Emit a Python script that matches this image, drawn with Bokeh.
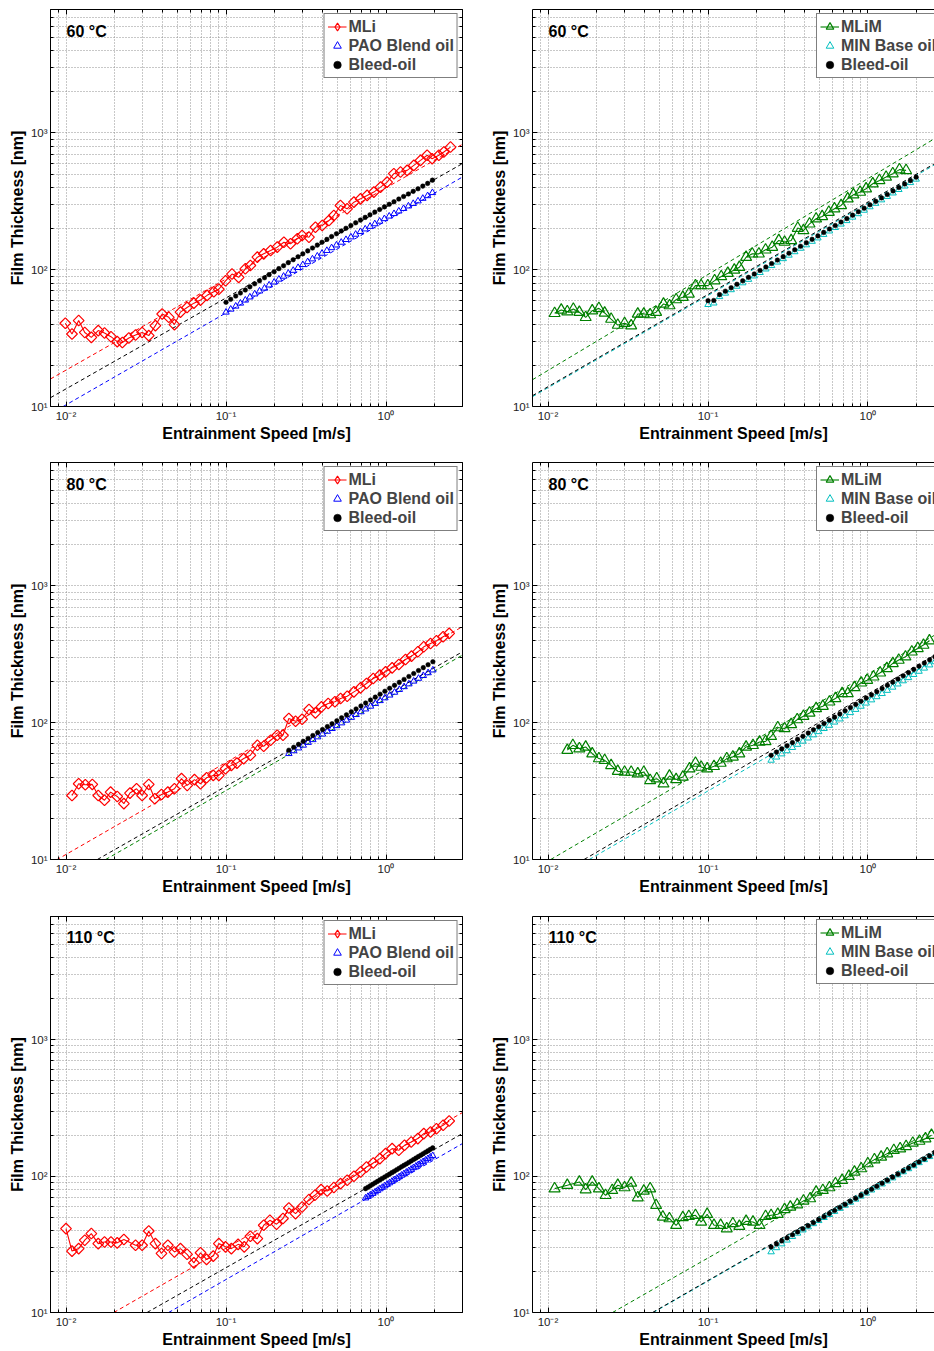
from bokeh.plotting import figure
from bokeh.layouts import gridplot
from bokeh.models import (Range1d, FixedTicker, CustomJSTickFormatter, Legend,
                          LegendItem, Label, LogAxis)
from bokeh.embed import file_html
from bokeh.resources import INLINE
import math

FONT = "Liberation Sans"

# ---------------- axis ticks ----------------
X_MAJOR_TICKS = [0.01, 0.1, 1.0]
X_MINOR_TICKS = [0.009, 0.02, 0.03, 0.04, 0.05, 0.06, 0.07, 0.08, 0.09,
                 0.2, 0.3, 0.4, 0.5, 0.6, 0.7, 0.8, 0.9, 2.0]
Y_MAJOR_TICKS = [10, 100, 1000]
Y_MINOR_TICKS = [20, 30, 40, 50, 60, 70, 80, 90,
                 200, 300, 400, 500, 600, 700, 800, 900,
                 2000, 3000, 4000, 5000, 6000, 7000]

TEMPS = ["60 \u00b0C", "80 \u00b0C", "110 \u00b0C"]
LEFT_NAMES = ["MLi", "PAO Blend oil", "Bleed-oil"]
RIGHT_NAMES = ["MLiM", "MIN Base oil", "Bleed-oil"]

# ---------------- 60 C, lithium grease (MLi) ----------------
A_MLI_X = [0.0099, 0.0109, 0.0120, 0.0131, 0.0144, 0.0159, 0.0174, 0.0191, 0.0209, 0.0225,
           0.0247, 0.0272, 0.0299, 0.0329, 0.0362, 0.0399, 0.0439, 0.0476, 0.0519, 0.0571,
           0.0630, 0.0693, 0.0762, 0.0839, 0.0902, 0.0993, 0.109, 0.120, 0.132, 0.142,
           0.157, 0.172, 0.190, 0.209, 0.230, 0.253, 0.279, 0.299, 0.330, 0.362,
           0.399, 0.440, 0.472, 0.519, 0.571, 0.630, 0.693, 0.762, 0.839, 0.924,
           1.016, 1.119, 1.232, 1.355, 1.492, 1.643, 1.807, 1.942, 2.138, 2.298, 2.53]
A_MLI_Y = [40.6, 33.9, 42.5, 34.8, 32.0, 35.9, 34.5, 32.4, 29.8, 29.4,
           31.7, 33.3, 34.8, 33.0, 39.0, 47.5, 44.9, 39.7, 49.0, 53.0,
           57.0, 60.0, 65.0, 69.0, 72.0, 83.0, 93.0, 88.0, 101.6, 107.5,
           123.6, 130.7, 138.2, 146.3, 159.0, 154.8, 168.4, 178.0, 173.0, 204.7,
           210.7, 229.0, 249.4, 295.0, 279.0, 312.0, 330.0, 349.6, 369.8, 402.0,
           437.5, 504.0, 518.0, 533.0, 580.0, 631.0, 687.0, 649.0, 687.0, 726.0, 789.0]
A_OIL_X = [0.100, 0.107, 0.115, 0.123, 0.132, 0.141, 0.151, 0.162, 0.174, 0.186,
           0.200, 0.214, 0.229, 0.245, 0.263, 0.282, 0.302, 0.324, 0.347, 0.372,
           0.398, 0.427, 0.457, 0.490, 0.525, 0.562, 0.603, 0.646, 0.692, 0.741,
           0.794, 0.851, 0.912, 0.977, 1.047, 1.122, 1.202, 1.288, 1.380, 1.479,
           1.585, 1.698, 1.820, 1.950]
A_PAO_Y = [48.9, 51.4, 54.1, 56.9, 59.9, 63.1, 66.4, 69.8, 73.3, 77.2,
           81.1, 85.2, 89.5, 94.1, 98.8, 103.6, 108.9, 114.3, 119.8, 125.7,
           131.8, 138.1, 144.7, 151.4, 158.6, 166.0, 173.5, 181.5, 189.9, 198.4,
           207.3, 216.5, 226.1, 236.0, 246.3, 257.0, 268.3, 280.0, 292.0, 304.7,
           318.0, 332.2, 347.4, 366.0]
A_BLEED_Y = [57.8, 60.8, 64.2, 67.6, 71.1, 75.0, 78.9, 83.1, 87.4, 92.1,
             96.8, 101.9, 107.1, 112.7, 118.4, 124.5, 130.7, 137.4, 144.2, 151.4,
             159.0, 166.7, 174.9, 183.2, 192.0, 201.1, 210.6, 220.5, 230.8, 241.5,
             252.4, 263.9, 275.8, 288.2, 301.1, 314.6, 328.7, 343.4, 358.3, 374.3,
             390.9, 408.9, 428.0, 452.0]
A_FIT_MLI_X, A_FIT_MLI_Y = [0.008, 3.0], [15.9, 826.0]
A_FIT_BLEED_X, A_FIT_BLEED_Y = [0.008, 3.0], [11.6, 597.0]
A_FIT_PAO_X, A_FIT_PAO_Y = [0.0096, 3.0], [10.0, 476.0]

# ---------------- 60 C, mineral grease (MLiM) ----------------
B_MLIM_X = [0.0110, 0.0121, 0.0132, 0.0144, 0.0157, 0.0172, 0.0189, 0.0208, 0.0226, 0.0248,
            0.0273, 0.0301, 0.0331, 0.0364, 0.0397, 0.0435, 0.0474, 0.0527, 0.0575, 0.0632,
            0.0696, 0.0759, 0.0835, 0.0906, 0.0997, 0.110, 0.121, 0.133, 0.146, 0.157,
            0.173, 0.189, 0.208, 0.229, 0.252, 0.277, 0.301, 0.331, 0.364, 0.395,
            0.431, 0.474, 0.517, 0.569, 0.617, 0.679, 0.747, 0.811, 0.893, 0.973,
            1.071, 1.179, 1.297, 1.428, 1.572, 1.730]
B_MLIM_Y = [48.0, 50.8, 49.4, 51.6, 48.9, 44.9, 50.2, 52.2, 48.3, 43.6,
            39.4, 40.6, 39.0, 47.5, 47.5, 47.0, 48.9, 56.2, 54.7, 60.5,
            63.0, 66.6, 76.6, 76.6, 76.6, 83.3, 89.2, 94.3, 99.7, 104.3,
            123.5, 130.7, 130.7, 139.9, 146.3, 163.8, 159.3, 163.8, 201.6, 193.6,
            216.6, 235.9, 245.4, 263.8, 279.2, 295.3, 330.6, 353.8, 369.8, 391.5,
            425.7, 450.2, 476.3, 504.4, 539.9, 533.0]
B_OIL_X = [0.1000, 0.1087, 0.1181, 0.1284, 0.1395, 0.1516, 0.1648, 0.1791, 0.1946, 0.2115,
           0.2299, 0.2498, 0.2715, 0.2951, 0.3207, 0.3485, 0.3788, 0.4117, 0.4474, 0.4862,
           0.5284, 0.5743, 0.6241, 0.6783, 0.7372, 0.8011, 0.8707, 0.9462, 1.028, 1.118,
           1.215, 1.320, 1.435, 1.559, 1.695, 1.842, 2.000]
B_BLEED_Y = [59.4, 59.6, 65.8, 69.7, 73.9, 78.3, 83.0, 88.0, 93.2, 98.8,
             104.8, 111.0, 117.7, 124.7, 132.2, 140.1, 148.5, 157.4, 166.9, 176.8,
             187.5, 198.7, 210.6, 223.2, 236.6, 250.8, 265.8, 281.7, 298.5, 316.4,
             335.4, 355.4, 376.8, 399.4, 423.3, 448.7, 475.5]
B_MIN_Y = [55.6, 57.0, 63.5, 67.3, 71.3, 75.6, 80.1, 84.9, 89.9, 95.3,
           101.1, 107.1, 113.6, 120.3, 127.6, 135.2, 143.3, 151.9, 161.1, 170.6,
           180.9, 191.7, 203.2, 215.4, 228.3, 242.0, 256.5, 271.8, 288.1, 305.3,
           323.7, 343.0, 363.6, 385.4, 408.5, 433.0, 458.9]
B_FIT_MLIM_X, B_FIT_MLIM_Y = [0.008, 2.61], [15.7, 910.0]
B_FIT_BLEED_X, B_FIT_BLEED_Y = [0.008, 2.61], [12.0, 597.0]
B_FIT_MIN_X, B_FIT_MIN_Y = [0.008, 2.61], [11.8, 585.0]

# ---------------- 80 C, MLi ----------------
C_MLI_X = [0.0109, 0.0120, 0.0132, 0.0146, 0.0159, 0.0174, 0.0190, 0.0209, 0.0230, 0.0251,
           0.0276, 0.0299, 0.0329, 0.0359, 0.0395, 0.0433, 0.0476, 0.0527, 0.0572, 0.0635,
           0.0693, 0.0756, 0.0832, 0.0902, 0.0993, 0.108, 0.117, 0.129, 0.142, 0.157,
           0.172, 0.190, 0.209, 0.227, 0.247, 0.272, 0.299, 0.330, 0.362, 0.395,
           0.435, 0.479, 0.520, 0.572, 0.630, 0.693, 0.755, 0.832, 0.915, 0.993,
           1.092, 1.202, 1.324, 1.443, 1.581, 1.722, 1.897, 2.066, 2.275, 2.481]
C_MLI_Y = [29.4, 35.8, 35.2, 35.4, 29.4, 27.1, 31.1, 28.9, 25.6, 30.6,
           32.9, 29.4, 35.4, 27.8, 29.9, 31.1, 32.9, 39.0, 34.8, 38.4,
           35.8, 39.6, 41.2, 41.2, 46.1, 48.8, 50.7, 54.7, 57.8, 68.4,
           67.3, 74.5, 81.0, 81.0, 107.4, 102.6, 106.1, 124.9, 118.0, 130.7,
           138.3, 142.3, 150.4, 156.4, 168.2, 179.9, 193.6, 210.7, 222.9, 235.7,
           251.9, 266.6, 290.1, 306.9, 330.2, 359.2, 380.0, 397.4, 425.2, 450.0]
C_OIL_X = [0.247, 0.265, 0.284, 0.304, 0.326, 0.349, 0.374, 0.401, 0.430, 0.460,
           0.493, 0.528, 0.566, 0.607, 0.650, 0.697, 0.746, 0.800, 0.857, 0.918,
           0.984, 1.054, 1.130, 1.211, 1.297, 1.390, 1.489, 1.596, 1.710, 1.832, 1.963]
C_PAO_Y = [59.4, 62.3, 65.3, 68.4, 71.7, 75.1, 78.7, 82.5, 86.5, 90.6,
           95.0, 99.6, 104.3, 109.3, 114.6, 120.1, 125.9, 131.9, 138.2, 144.9,
           151.8, 159.1, 166.8, 174.8, 183.2, 192.0, 201.2, 210.9, 221.0, 231.6, 242.7]
C_BLEED_Y = [63.0, 66.2, 69.5, 73.1, 76.8, 80.7, 84.8, 89.1, 93.7, 98.4,
             103.4, 108.7, 114.2, 120.1, 126.2, 132.6, 139.4, 146.5, 153.9, 161.8,
             170.0, 178.6, 187.7, 197.3, 207.4, 217.9, 229.0, 240.7, 252.9, 265.8, 279.3]
C_FIT_MLI_X, C_FIT_MLI_Y = [0.008, 3.0], [9.37, 504.0]
C_FIT_BLEED_X, C_FIT_BLEED_Y = [0.0157, 3.0], [10.0, 330.0]
C_FIT_PAO_X, C_FIT_PAO_Y = [0.0177, 3.0], [10.0, 312.0]

# ---------------- 80 C, MLiM ----------------
D_MLIM_X = [0.0132, 0.0143, 0.0157, 0.0172, 0.0189, 0.0208, 0.0226, 0.0248, 0.0273, 0.0301,
            0.0331, 0.0364, 0.0397, 0.0435, 0.0478, 0.0527, 0.0574, 0.0632, 0.0696, 0.0766,
            0.0835, 0.0906, 0.0988, 0.109, 0.120, 0.131, 0.143, 0.157, 0.173, 0.191,
            0.210, 0.229, 0.248, 0.273, 0.301, 0.331, 0.361, 0.395, 0.431, 0.474,
            0.522, 0.574, 0.626, 0.689, 0.748, 0.823, 0.906, 0.988, 1.082, 1.191,
            1.312, 1.429, 1.556, 1.714, 1.878, 2.047, 2.222, 2.421]
D_MLIM_Y = [63.0, 68.4, 64.7, 66.5, 59.4, 54.7, 53.1, 48.8, 44.2, 43.6,
            43.6, 42.4, 43.6, 37.9, 39.0, 35.8, 40.8, 38.5, 40.1, 46.1,
            50.7, 47.4, 46.1, 48.0, 50.7, 54.7, 56.3, 59.4, 66.5, 68.4,
            72.3, 73.1, 79.6, 92.2, 90.7, 97.1, 105.5, 111.6, 118.0, 127.1,
            132.1, 142.2, 150.4, 163.6, 163.6, 181.1, 195.9, 204.9, 216.7, 231.8,
            249.5, 271.5, 287.2, 303.6, 330.2, 349.7, 369.9, 398.0]
D_OIL_X = [0.248, 0.268, 0.289, 0.312, 0.337, 0.363, 0.392, 0.423, 0.456, 0.492,
           0.531, 0.573, 0.618, 0.667, 0.719, 0.776, 0.838, 0.904, 0.975, 1.052,
           1.135, 1.225, 1.321, 1.426, 1.538, 1.660, 1.791, 1.932, 2.084, 2.249,
           2.427, 2.618]
D_MIN_Y = [53.1, 56.0, 59.1, 62.3, 65.8, 69.4, 73.2, 77.2, 81.4, 85.9,
           90.6, 95.6, 100.9, 106.4, 112.2, 118.4, 124.9, 131.8, 139.0, 146.7,
           154.7, 163.2, 172.2, 181.7, 191.7, 202.2, 213.3, 225.0, 237.4, 250.4,
           264.2, 278.7]
D_BLEED_Y = [57.8, 61.0, 64.4, 67.9, 71.6, 75.6, 79.7, 84.1, 88.8, 93.6,
             98.8, 104.2, 109.9, 116.0, 122.4, 129.1, 136.2, 143.7, 151.6, 159.9,
             168.7, 178.0, 187.8, 198.2, 209.0, 220.6, 232.7, 245.5, 259.0, 273.3,
             288.3, 304.1]
D_FIT_MLIM_X, D_FIT_MLIM_Y = [0.0104, 2.61], [10.0, 437.0]
D_FIT_BLEED_X, D_FIT_BLEED_Y = [0.0168, 2.61], [10.0, 312.0]
D_FIT_MIN_X, D_FIT_MIN_Y = [0.0181, 2.61], [10.0, 287.0]

# ---------------- 110 C, MLi ----------------
E_MLI_X = [0.0100, 0.0109, 0.0120, 0.0131, 0.0144, 0.0159, 0.0174, 0.0191, 0.0209, 0.0230,
           0.0272, 0.0299, 0.0329, 0.0362, 0.0395, 0.0433, 0.0476, 0.0519, 0.0571, 0.0630,
           0.0693, 0.0756, 0.0832, 0.0902, 0.0993, 0.108, 0.119, 0.130, 0.142, 0.157,
           0.172, 0.188, 0.207, 0.227, 0.247, 0.272, 0.299, 0.330, 0.359, 0.393,
           0.429, 0.472, 0.520, 0.572, 0.630, 0.693, 0.755, 0.832, 0.915, 0.993,
           1.092, 1.202, 1.305, 1.437, 1.581, 1.722, 1.897, 2.066, 2.275, 2.481]
E_MLI_Y = [41.2, 28.2, 29.4, 33.9, 37.9, 32.0, 32.9, 32.9, 32.4, 34.3,
           31.1, 31.1, 39.6, 32.0, 27.1, 31.1, 27.8, 29.4, 26.7, 23.1,
           27.4, 24.5, 25.9, 32.0, 30.3, 29.4, 31.6, 30.3, 36.2, 34.8,
           43.6, 47.4, 44.4, 48.9, 58.4, 53.1, 59.4, 67.3, 72.3, 79.6,
           77.8, 82.4, 88.1, 93.2, 99.7, 107.2, 116.6, 124.8, 134.3, 146.1,
           159.0, 154.5, 168.2, 177.9, 188.3, 204.9, 210.4, 222.6, 235.7, 253.3]
E_OIL_X = [0.745, 0.771, 0.798, 0.826, 0.855, 0.885, 0.916, 0.948, 0.982, 1.016,
           1.052, 1.089, 1.127, 1.167, 1.208, 1.250, 1.294, 1.340, 1.387, 1.436,
           1.486, 1.538, 1.592, 1.648, 1.706, 1.766, 1.828, 1.892, 1.959]
E_PAO_Y = [69.0, 70.8, 72.6, 74.5, 76.4, 78.4, 80.5, 82.5, 84.7, 86.9,
           89.1, 91.4, 93.8, 96.2, 98.7, 101.3, 103.9, 106.6, 109.3, 112.1,
           115.1, 118.0, 121.1, 124.2, 127.4, 130.7, 134.1, 137.6, 141.1]
E_BLEED_Y = [80.9, 82.9, 85.0, 87.1, 89.3, 91.5, 93.8, 96.1, 98.5, 100.9,
             103.4, 106.0, 108.6, 111.4, 114.1, 117.0, 119.9, 122.8, 125.9, 129.0,
             132.2, 135.5, 138.9, 142.3, 145.9, 149.5, 153.2, 157.0, 160.9]
E_FIT_MLI_X, E_FIT_MLI_Y = [0.0199, 3.0], [10.0, 292.0]
E_FIT_BLEED_X, E_FIT_BLEED_Y = [0.0321, 3.0], [10.0, 205.0]
E_FIT_PAO_X, E_FIT_PAO_Y = [0.0438, 3.0], [10.0, 173.0]

# ---------------- 110 C, MLiM ----------------
F_MLIM_X = [0.0110, 0.0132, 0.0157, 0.0172, 0.0189, 0.0208, 0.0229, 0.0252, 0.0273, 0.0301,
            0.0331, 0.0364, 0.0397, 0.0435, 0.0474, 0.0522, 0.0574, 0.0632, 0.0696, 0.0759,
            0.0835, 0.0906, 0.0988, 0.109, 0.120, 0.131, 0.143, 0.157, 0.173, 0.191,
            0.210, 0.229, 0.248, 0.273, 0.301, 0.327, 0.361, 0.395, 0.435, 0.474,
            0.522, 0.574, 0.626, 0.689, 0.759, 0.823, 0.906, 0.997, 1.097, 1.208,
            1.318, 1.450, 1.588, 1.730, 1.905, 2.097, 2.287, 2.493]
F_MLIM_Y = [80.9, 85.7, 90.6, 79.6, 90.6, 80.9, 72.3, 78.7, 85.7, 82.4,
            89.0, 69.5, 77.8, 80.9, 61.1, 50.2, 48.8, 43.6, 49.7, 50.7,
            51.6, 46.1, 52.5, 43.6, 43.6, 41.2, 44.9, 42.9, 46.7, 46.1,
            43.6, 50.7, 51.6, 52.5, 56.9, 59.4, 61.8, 65.8, 68.4, 76.5,
            78.7, 82.4, 88.2, 93.2, 99.7, 107.2, 113.5, 123.5, 132.1, 138.1,
            146.1, 154.5, 159.0, 165.2, 174.7, 180.6, 188.2, 199.2]
F_OIL_X = [0.248, 0.268, 0.289, 0.312, 0.337, 0.363, 0.392, 0.423, 0.456, 0.492,
           0.531, 0.573, 0.618, 0.667, 0.719, 0.776, 0.838, 0.904, 0.975, 1.052,
           1.135, 1.225, 1.321, 1.426, 1.538, 1.660, 1.791, 1.932, 2.084, 2.249,
           2.427, 2.618]
F_MIN_Y = [27.8, 29.8, 31.8, 33.9, 36.0, 38.1, 40.2, 42.4, 44.7, 47.1,
           49.6, 52.2, 55.0, 57.9, 61.0, 64.2, 67.6, 71.2, 74.9, 78.9,
           83.0, 87.4, 92.0, 96.8, 101.9, 107.3, 113.0, 118.9, 125.2, 131.8,
           138.7, 146.0]
F_BLEED_Y = [30.2, 31.8, 33.5, 35.2, 37.1, 39.0, 41.1, 43.2, 45.5, 47.9,
             50.4, 53.1, 55.9, 58.8, 61.9, 65.2, 68.6, 72.2, 76.0, 80.0,
             84.2, 88.6, 93.3, 98.2, 103.3, 108.8, 114.5, 120.5, 126.8, 133.5,
             140.5, 147.9]
F_FIT_MLIM_X, F_FIT_MLIM_Y = [0.0253, 2.61], [10.0, 223.0]
F_FIT_BLEED_X, F_FIT_BLEED_Y = [0.045, 2.61], [10.0, 155.0]
F_FIT_MIN_X, F_FIT_MIN_Y = [0.0455, 2.61], [10.0, 152.0]

RED, BLUE, GREEN, CYAN, BLACK = "#ff0000", "#0000ff", "#008000", "#00bfbf", "#000000"

SUP_JS = """
const sup = {"-": "\u207b", "0": "\u2070", "1": "\u00b9", "2": "\u00b2", "3": "\u00b3", "4": "\u2074"};
const e = Math.round(Math.log10(tick));
return "10" + String(e).split("").map((c) => sup[c]).join("");
"""

FRAME_H = 397


def pair(xs, ys):
    n = min(len(xs), len(ys))
    return list(xs[:n]), list(ys[:n])


def box_axis(major, minor):
    # unlabelled axis used only for the inward ticks of the box (top / right)
    return LogAxis(ticker=FixedTicker(ticks=major, minor_ticks=minor),
                   formatter=CustomJSTickFormatter(code="return '';"),
                   major_label_text_font_size="0px", major_label_standoff=0,
                   major_tick_in=5, major_tick_out=0, minor_tick_in=3, minor_tick_out=0,
                   axis_line_color="black", major_tick_line_color="black",
                   minor_tick_line_color="black")


def make_panel(temp, right, mli, oil, bleed, fits, oil_color, height, bottom):
    if right:
        width, bl, br, xend = 452, 50, 0, 2.604
    else:
        width, bl, br, xend = 482, 50, 20, 3.006
    p = figure(width=width, height=height, x_axis_type="log", y_axis_type="log",
               x_range=Range1d(0.008, xend), y_range=Range1d(10, 8000),
               min_border_left=bl, min_border_right=br, min_border_top=9,
               min_border_bottom=bottom, toolbar_location=None,
               output_backend="svg", background_fill_color="white",
               border_fill_color="white")
    p.outline_line_color = None if right else "black"
    p.outline_line_width = 1

    for ax in (p.xaxis[0], p.yaxis[0]):
        ax.formatter = CustomJSTickFormatter(code=SUP_JS)
        ax.axis_line_color = "black"
        ax.axis_line_width = 1
        ax.major_tick_in = 5
        ax.major_tick_out = 0
        ax.minor_tick_in = 3
        ax.minor_tick_out = 0
        ax.major_tick_line_color = "black"
        ax.minor_tick_line_color = "black"
        ax.major_label_text_font = FONT
        ax.major_label_text_font_size = "11.5px"
        ax.major_label_text_color = "#222222"
        ax.axis_label_text_font = FONT
        ax.axis_label_text_font_style = "bold"
        ax.axis_label_text_font_size = "16px"
        ax.axis_label_text_color = "black"
    p.xaxis.ticker = FixedTicker(ticks=X_MAJOR_TICKS, minor_ticks=X_MINOR_TICKS)
    p.yaxis.ticker = FixedTicker(ticks=Y_MAJOR_TICKS, minor_ticks=Y_MINOR_TICKS)
    p.xaxis.axis_label = "Entrainment Speed [m/s]"
    p.yaxis.axis_label = "Film Thickness [nm]"
    p.xaxis.major_label_standoff = 3
    p.xaxis.axis_label_standoff = 0
    p.yaxis.major_label_standoff = 3
    p.yaxis.axis_label_standoff = 2

    p.add_layout(box_axis(X_MAJOR_TICKS, X_MINOR_TICKS), "above")
    if not right:
        p.add_layout(box_axis(Y_MAJOR_TICKS, Y_MINOR_TICKS), "right")

    for g in (p.xgrid[0], p.ygrid[0]):
        g.grid_line_color = "#909090"
        g.grid_line_dash = "1 2"
        g.grid_line_width = 1
        g.minor_grid_line_color = "#909090"
        g.minor_grid_line_dash = "1 2"
        g.minor_grid_line_width = 1

    # fitted power-law lines (dashed)
    for fx, fy, fc in fits:
        p.line(fx, fy, line_color=fc, line_width=1, line_dash="4 3")

    mx, my = pair(*mli)
    ox, oy = pair(*oil)
    bx, by = pair(*bleed)
    # legend-only proxy marker, placed outside the visible ranges
    proxy_x, proxy_y = [1e-4], [1.0]
    if right:
        mcol = GREEN
        mli_line = p.line(mx, my, line_color=mcol, line_width=1.1)
        mli_mark = p.scatter(mx, my, marker="triangle", size=11, line_color=mcol,
                             fill_color=None, line_width=1.2)
        legend_mark = mli_mark
    else:
        mcol = RED
        mli_line = p.line(mx, my, line_color=mcol, line_width=1.1)
        p.scatter(mx, my, marker="square", angle=math.pi / 4, size=7.6,
                  line_color=mcol, fill_color=None, line_width=1.2)
        legend_mark = p.scatter(proxy_x, proxy_y, marker="diamond", size=10,
                                line_color=mcol, fill_color=None, line_width=1.2)
    oil_r = p.scatter(ox, oy, marker="triangle", size=6.5, line_color=oil_color,
                      fill_color=None, line_width=1)
    bleed_r = p.scatter(bx, by, marker="circle", size=4.6, line_color=BLACK,
                        fill_color=BLACK, line_width=0.5)

    names = RIGHT_NAMES if right else LEFT_NAMES
    legend = Legend(items=[LegendItem(label=names[0], renderers=[mli_line, legend_mark]),
                           LegendItem(label=names[1], renderers=[oil_r]),
                           LegendItem(label=names[2], renderers=[bleed_r])])
    legend.border_line_color = "black"
    legend.border_line_width = 1
    legend.background_fill_color = "white"
    legend.background_fill_alpha = 1.0
    legend.label_text_font = FONT
    legend.label_text_font_style = "bold"
    legend.label_text_font_size = "16px"
    legend.glyph_width = 19
    legend.glyph_height = 19
    legend.label_height = 19
    legend.label_standoff = 2
    legend.padding = 3
    legend.spacing = 0
    if right:
        legend.location = (284, FRAME_H - 3 - 66)
    else:
        legend.location = "top_right"
        legend.margin = 4
    p.add_layout(legend)

    p.add_layout(Label(x=16, y=FRAME_H - 21.5, x_units="screen", y_units="screen",
                       text=temp, text_font=FONT, text_font_style="bold",
                       text_font_size="16px", text_color="black",
                       text_baseline="alphabetic"))
    return p


pA = make_panel(TEMPS[0], False, (A_MLI_X, A_MLI_Y), (A_OIL_X, A_PAO_Y), (A_OIL_X, A_BLEED_Y),
                [(A_FIT_MLI_X, A_FIT_MLI_Y, RED), (A_FIT_BLEED_X, A_FIT_BLEED_Y, BLACK),
                 (A_FIT_PAO_X, A_FIT_PAO_Y, BLUE)], BLUE, 453, 47)
pB = make_panel(TEMPS[0], True, (B_MLIM_X, B_MLIM_Y), (B_OIL_X, B_MIN_Y), (B_OIL_X, B_BLEED_Y),
                [(B_FIT_MLIM_X, B_FIT_MLIM_Y, GREEN), (B_FIT_MIN_X, B_FIT_MIN_Y, CYAN),
                 (B_FIT_BLEED_X, B_FIT_BLEED_Y, BLACK)], CYAN, 453, 47)
pC = make_panel(TEMPS[1], False, (C_MLI_X, C_MLI_Y), (C_OIL_X, C_PAO_Y), (C_OIL_X, C_BLEED_Y),
                [(C_FIT_MLI_X, C_FIT_MLI_Y, RED), (C_FIT_BLEED_X, C_FIT_BLEED_Y, BLACK),
                 (C_FIT_PAO_X, C_FIT_PAO_Y, GREEN)], BLUE, 454, 48)
pD = make_panel(TEMPS[1], True, (D_MLIM_X, D_MLIM_Y), (D_OIL_X, D_MIN_Y), (D_OIL_X, D_BLEED_Y),
                [(D_FIT_MLIM_X, D_FIT_MLIM_Y, GREEN), (D_FIT_MIN_X, D_FIT_MIN_Y, CYAN),
                 (D_FIT_BLEED_X, D_FIT_BLEED_Y, BLACK)], CYAN, 454, 48)
pE = make_panel(TEMPS[2], False, (E_MLI_X, E_MLI_Y), (E_OIL_X, E_PAO_Y), (E_OIL_X, E_BLEED_Y),
                [(E_FIT_MLI_X, E_FIT_MLI_Y, RED), (E_FIT_BLEED_X, E_FIT_BLEED_Y, BLACK),
                 (E_FIT_PAO_X, E_FIT_PAO_Y, BLUE)], BLUE, 443, 37)
pF = make_panel(TEMPS[2], True, (F_MLIM_X, F_MLIM_Y), (F_OIL_X, F_MIN_Y), (F_OIL_X, F_BLEED_Y),
                [(F_FIT_MLIM_X, F_FIT_MLIM_Y, GREEN), (F_FIT_MIN_X, F_FIT_MIN_Y, CYAN),
                 (F_FIT_BLEED_X, F_FIT_BLEED_Y, BLACK)], CYAN, 443, 37)

grid = gridplot([[pA, pB], [pC, pD], [pE, pF]], toolbar_location=None)

with open("out.html", "w") as f:
    f.write(file_html(grid, INLINE))
